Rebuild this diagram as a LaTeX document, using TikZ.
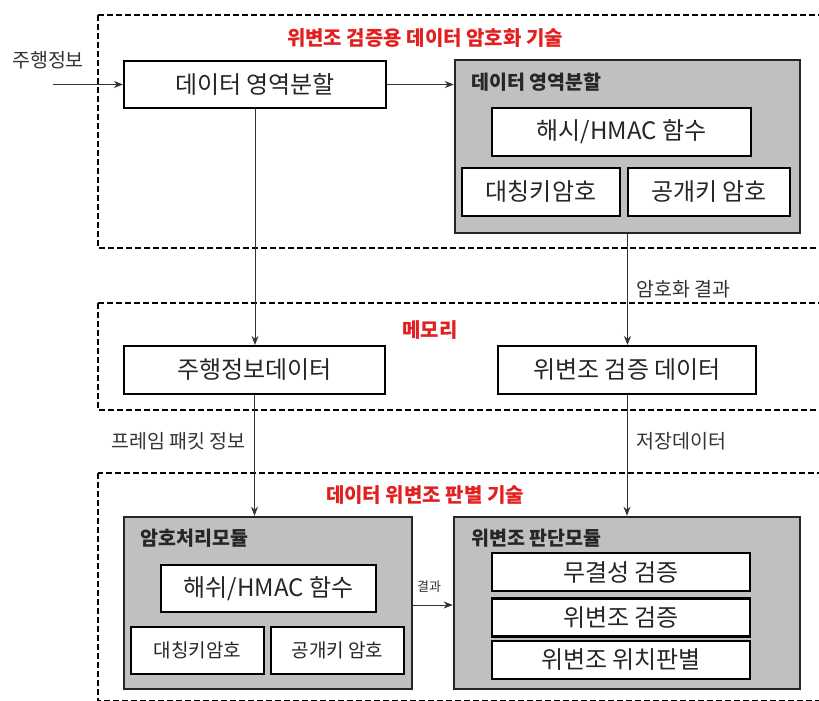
\documentclass[tikz,border=0pt]{standalone}
\usepackage{fontspec}
\setmainfont{Noto Sans CJK KR}
\usetikzlibrary{arrows.meta}
\definecolor{boxgray}{RGB}{192,192,192}
\definecolor{titlered}{RGB}{226,32,32}
\begin{document}
\begin{tikzpicture}[x=1pt,y=-1pt,
  zone/.style={draw=black, line width=1.8pt, dash pattern=on 6pt off 3pt},
  wbox/.style={draw=black, line width=2.2pt, fill=white, inner sep=0pt, text=black!85, font=\fontsize{24}{28}\selectfont},
  sbox/.style={wbox, font=\fontsize{19}{23}\selectfont},
  gbox/.style={draw=black!85, line width=2.6pt, fill=boxgray, inner sep=0pt},
  glabel/.style={anchor=west, text=black!85, font=\bfseries\fontsize{19.5}{23}\selectfont},
  ttl/.style={text=titlered, font=\bfseries\fontsize{20}{24}\selectfont},
  lbl/.style={font=\fontsize{19.5}{23}\selectfont, text=black!80},
  arr/.style={draw=black!80, line width=0.7pt, -{Stealth[length=9pt,width=7pt]}}
]
\clip (0,0) rectangle (819,701);
\fill[white] (0,0) rectangle (819,701);

% dashed zones
\draw[zone] (98,15) rectangle (840,248);
\draw[zone] (98,303) rectangle (840,410);
\draw[zone] (98,473) rectangle (840,701);

\node[ttl] (t1) at (425,38) {위변조 검증용 데이터 암호화 기술};
\node[ttl] (t2) at (430,330) {메모리};
\node[ttl] (t3) at (425,495) {데이터 위변조 판별 기술};

% top zone
\node[lbl, anchor=center] (inlbl) at (48,60) {주행정보};
\coordinate (in) at (53,84.5);
\node[wbox, minimum width=262pt, minimum height=47pt] (A) at (255,84.5) {데이터 영역분할};

\node[gbox, minimum width=345pt, minimum height=173pt] (G1) at (627.5,146.5) {};
\node[glabel] (G1l) at (468,82) {데이터 영역분할};
\node[wbox, minimum width=259pt, minimum height=48pt] (H1) at (621.5,132) {해시/HMAC 함수};
\node[wbox, minimum width=158pt, minimum height=48pt] (S1) at (541,192) {대칭키암호};
\node[wbox, minimum width=162pt, minimum height=48pt] (P1) at (709,192) {공개키 암호};

% memory zone
\node[wbox, minimum width=261pt, minimum height=48pt] (M1) at (254.5,370) {주행정보데이터};
\node[wbox, minimum width=258pt, minimum height=48pt] (M2) at (627,370) {위변조 검증 데이터};

% bottom zone
\node[gbox, minimum width=288pt, minimum height=172pt] (G2) at (268,603) {};
\node[glabel] (G2l) at (137,538) {암호처리모듈};
\node[wbox, minimum width=215pt, minimum height=47pt] (H2) at (268.5,588.5) {해쉬/HMAC 함수};
\node[sbox, minimum width=133pt, minimum height=47pt] (S2) at (197.5,650.5) {대칭키암호};
\node[sbox, minimum width=133pt, minimum height=47pt] (P2) at (337.5,650.5) {공개키 암호};

\node[gbox, minimum width=346pt, minimum height=172pt] (G3) at (627,603) {};
\node[glabel] (G3l) at (468,538) {위변조 판단모듈};
\node[wbox, minimum width=258pt, minimum height=38pt] (V1) at (621,572) {무결성 검증};
\node[wbox, minimum width=258pt, minimum height=38pt] (V2) at (621,617.5) {위변조 검증};
\node[wbox, minimum width=258pt, minimum height=38pt] (V3) at (621,660) {위변조 위치판별};

% connectors
\draw[arr] (in) -- (A.west);
\draw[arr] (A.east) -- (A.east -| G1.west);
\draw[arr] (A.south) -- (A.south |- M1.north);
\draw[arr] (G1.south) -- (G1.south |- M2.north);
\node[lbl, anchor=west] (l1) at (633,289) {암호화 결과};
\draw[arr] (M1.south) -- (M1.south |- G2.north);
\node[lbl, anchor=east] (l2) at (249,441) {프레임 패킷 정보};
\draw[arr] (M2.south) -- (M2.south |- G3.north);
\node[lbl, anchor=west] (l3) at (633,441) {저장데이터};
\coordinate (rs) at (G2.east |- 0,605);
\draw[arr] (rs) -- (rs -| G3.west);
\node[font=\fontsize{13}{15}\selectfont, text=black!80] (l4) at (429,587) {결과};
\end{tikzpicture}
\end{document}
